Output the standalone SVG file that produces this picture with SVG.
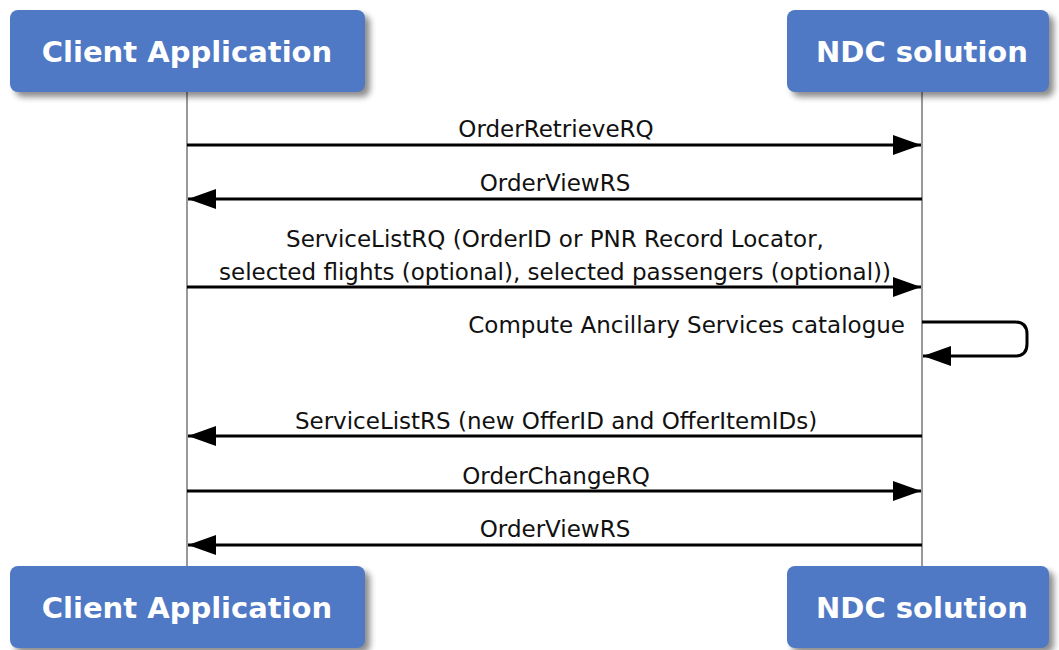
<svg xmlns="http://www.w3.org/2000/svg" width="1059" height="650" viewBox="0 0 1059 650">
<style>
.box{fill:#4f79c5;}
.shadow{fill:#000;opacity:0.45;filter:url(#blur);}
.hdr{font-family:"DejaVu Sans",Verdana,sans-serif;font-weight:bold;font-size:29px;fill:#fff;text-anchor:middle;}
.life{stroke:#999;stroke-width:2;fill:none;}
.msg{stroke:#000;stroke-width:3;fill:none;}
.lbl{font-family:"DejaVu Sans",Verdana,sans-serif;font-size:23px;fill:#111;text-anchor:middle;}
</style>
<defs>
<filter id="blur" x="-10%" y="-20%" width="120%" height="140%"><feGaussianBlur stdDeviation="3"/></filter>
<marker id="ah" markerWidth="28" markerHeight="20" refX="28" refY="10" orient="auto" markerUnits="userSpaceOnUse">
<path d="M0,0 L28,10 L0,20 Z" fill="#000"/>
</marker>
</defs>
<rect width="1059" height="650" fill="#fff"/>
<g id="lifelines">
<line class="life" x1="187" y1="92" x2="187" y2="566"/>
<line class="life" x1="922" y1="92" x2="922" y2="566"/>
</g>
<g id="client-top">
<rect class="shadow" x="15" y="15" width="355" height="82" rx="8"/>
<rect class="box" x="10" y="10" width="355" height="82" rx="8"/>
<text class="hdr" x="187" y="62">Client Application</text>
</g>
<g id="ndc-top">
<rect class="shadow" x="792" y="15" width="262" height="82" rx="8"/>
<rect class="box" x="787" y="10" width="262" height="82" rx="8"/>
<text class="hdr" x="922" y="62">NDC solution</text>
</g>
<g id="client-bottom">
<rect class="shadow" x="15" y="571" width="355" height="82" rx="8"/>
<rect class="box" x="10" y="566" width="355" height="82" rx="8"/>
<text class="hdr" x="187" y="618">Client Application</text>
</g>
<g id="ndc-bottom">
<rect class="shadow" x="792" y="571" width="262" height="82" rx="8"/>
<rect class="box" x="787" y="566" width="262" height="82" rx="8"/>
<text class="hdr" x="922" y="618">NDC solution</text>
</g>
<g id="connectors">
<line class="msg" x1="187" y1="145" x2="921" y2="145" marker-end="url(#ah)"/>
<line class="msg" x1="922" y1="199" x2="188" y2="199" marker-end="url(#ah)"/>
<line class="msg" x1="187" y1="287" x2="921" y2="287" marker-end="url(#ah)"/>
<path class="msg" d="M922,322 L1015,322 Q1027,322 1027,334 L1027,344 Q1027,356 1015,356 L923,356" marker-end="url(#ah)"/>
<line class="msg" x1="922" y1="436" x2="188" y2="436" marker-end="url(#ah)"/>
<line class="msg" x1="187" y1="491" x2="921" y2="491" marker-end="url(#ah)"/>
<line class="msg" x1="922" y1="545" x2="188" y2="545" marker-end="url(#ah)"/>
</g>
<g id="labels">
<text class="lbl" x="556" y="137">OrderRetrieveRQ</text>
<text class="lbl" x="555" y="191">OrderViewRS</text>
<text class="lbl" x="555" y="247">ServiceListRQ (OrderID or PNR Record Locator,</text>
<text class="lbl" x="555" y="280">selected flights (optional), selected passengers (optional))</text>
<text class="lbl" x="905" y="333" style="text-anchor:end">Compute Ancillary Services catalogue</text>
<text class="lbl" x="556" y="429">ServiceListRS (new OfferID and OfferItemIDs)</text>
<text class="lbl" x="556" y="484">OrderChangeRQ</text>
<text class="lbl" x="555" y="537">OrderViewRS</text>
</g>
</svg>
